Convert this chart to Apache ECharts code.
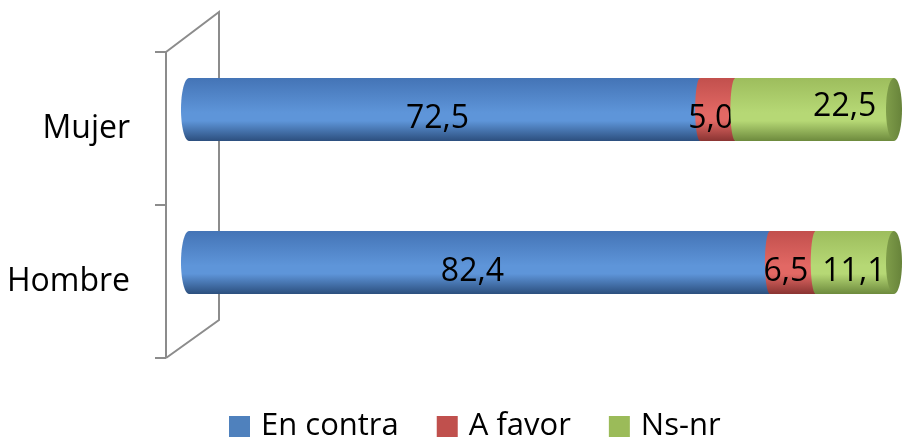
<!DOCTYPE html>
<html>
<head>
<meta charset="utf-8">
<script src="https://cdn.jsdelivr.net/npm/echarts@6/dist/echarts.min.js"></script>
<style>
html,body{margin:0;padding:0;background:#fff}
#chart{width:904px;height:437px}
</style>
</head>
<body>
<div id="chart"></div>
<script>
var categories = ['Mujer', 'Hombre'];
var seriesNames = ['En contra', 'A favor', 'Ns-nr'];
var enContra = [72.5, 82.4];
var aFavor = [5.0, 6.5];
var nsNr = [22.5, 11.1];

var font = '"Open Sans", sans-serif';
var gridLeft = 189, gridRight = 10, gridTop = 52, gridBottom = 79, axisOffset = 23;

// colours: base, and the shading of the cylinder from top to bottom
var shades = [
  ['#4f81bd', '#4474b6', '#5e95d9', '#2c4f7e'],
  ['#c0504d', '#c2504d', '#e26864', '#8a3432'],
  ['#9bbb59', '#9dbd5d', '#b6d875', '#6d8a3d']
];

function grad(c) {
  return new echarts.graphic.LinearGradient(0, 0, 0, 1, [
    {offset: 0, color: c[1]},
    {offset: 0.55, color: c[2]},
    {offset: 0.68, color: c[2]},
    {offset: 1, color: c[3]}
  ]);
}

function fmt(v) { return v.toFixed(1).replace('.', ','); }

var allValues = [enContra, aFavor, nsNr];
var myChart = echarts.init(document.getElementById('chart'));

var series = seriesNames.map(function (name, si) {
  var data = categories.map(function (c, ci) {
    var start = 0;
    for (var k = 0; k < si; k++) start += allValues[k][ci];
    return [ci, start, start + allValues[si][ci], allValues[si][ci]];
  });
  return {
    name: name,
    type: 'custom',
    itemStyle: {color: shades[si][0]},
    encode: {x: [1, 2], y: 0},
    data: data,
    renderItem: function (params, api) {
      var cat = api.value(0);
      var p0 = api.coord([api.value(1), cat]);
      var p1 = api.coord([api.value(2), cat]);
      var barH = 63;
      var cy = p0[1] - 19;
      var top = cy - barH / 2;
      var rx = si === 0 ? 8 : 5;
      var children = [];
      children.push({
        type: 'ellipse',
        shape: {cx: p0[0], cy: cy, rx: rx, ry: barH / 2},
        style: {fill: grad(shades[si])}
      });
      children.push({
        type: 'rect',
        shape: {x: p0[0], y: top, width: p1[0] - p0[0], height: barH},
        style: {fill: grad(shades[si])}
      });
      if (si === seriesNames.length - 1) {
        children.push({
          type: 'ellipse',
          shape: {cx: p1[0], cy: cy, rx: 8, ry: barH / 2},
          style: {fill: new echarts.graphic.LinearGradient(0, 0, 1, 0, [
            {offset: 0, color: '#7f9d4a'},
            {offset: 1, color: '#67833a'}
          ])}
        });
      }
      // labels sit a little left of centre, the Mujer/Ns-nr one was moved by hand
      var dx = -7, dy = 9;
      if (si === 2) dx = -1;
      if (si === 2 && cat === 0) { dx = 30; dy = -3; }
      children.push({
        type: 'text',
        style: {
          text: fmt(api.value(3)),
          x: (p0[0] + p1[0]) / 2 + dx,
          y: cy + dy,
          align: 'center',
          verticalAlign: 'middle',
          font: '32px ' + font,
          fill: '#000'
        }
      });
      return {type: 'group', children: children};
    }
  };
});

// 3D frame: front axis line with ticks, and the back wall edge
var frontX = gridLeft - axisOffset;
var yTop = gridTop, yBot = 437 - gridBottom;
var frameStyle = {stroke: '#8c8c8c', lineWidth: 2, fill: null};
var frame = [{
  type: 'polyline',
  z: 0,
  shape: {points: [[frontX, yTop], [frontX + 53, yTop - 40], [frontX + 53, yBot - 38], [frontX, yBot]]},
  style: frameStyle
}, {
  type: 'line',
  z: 0,
  shape: {x1: frontX, y1: yTop, x2: frontX, y2: yBot},
  style: frameStyle
}];
for (var t = 0; t <= categories.length; t++) {
  var ty = yTop + t * (yBot - yTop) / categories.length;
  frame.push({
    type: 'line',
    z: 0,
    shape: {x1: frontX - 11, y1: ty, x2: frontX, y2: ty},
    style: frameStyle
  });
}

option = {
  animation: false,
  grid: {left: gridLeft, right: gridRight, top: gridTop, bottom: gridBottom},
  legend: {
    data: seriesNames,
    left: 224,
    top: 406,
    icon: 'rect',
    itemWidth: 21,
    itemHeight: 21,
    itemGap: 38,
    textStyle: {fontSize: 31, fontFamily: font, color: '#000', padding: [0, 0, 0, 6]}
  },
  xAxis: {
    type: 'value', min: 0, max: 100,
    show: false
  },
  yAxis: {
    type: 'category',
    inverse: true,
    data: categories,
    axisLine: {show: false},
    axisTick: {show: false},
    axisLabel: {fontSize: 32, fontFamily: font, color: '#000', margin: 36 + axisOffset},
    splitLine: {show: false}
  },
  graphic: frame,
  series: series
};
myChart.setOption(option);
</script>
</body>
</html>
